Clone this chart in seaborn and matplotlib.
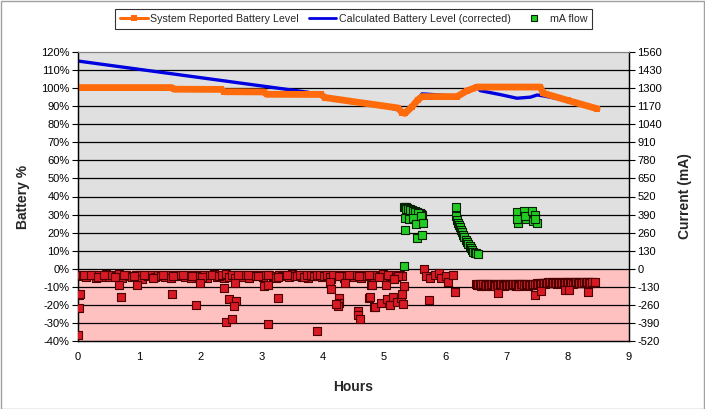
import matplotlib
matplotlib.use("Agg")
import matplotlib.pyplot as plt
import seaborn as sns
import pandas as pd
from matplotlib.lines import Line2D
from matplotlib.patches import Rectangle

sns.set_style("white")
plt.rcParams['font.family'] = ['Liberation Sans', 'DejaVu Sans']

# ---------------- data ----------------
# System reported battery level (%)
sys_hours = [0.0, 1.53, 1.57, 2.34, 2.39, 3.04, 3.08, 3.97, 4.03, 4.50, 4.90, 5.23, 5.29, 5.34,
             5.45, 5.55, 5.62, 6.19, 6.35, 6.52, 7.55, 7.60, 8.00, 8.48]
sys_level = [100.3, 100.3, 99.4, 99.3, 98.0, 97.9, 96.6, 96.5, 94.8, 92.5, 90.6, 89.0, 86.5, 86.0,
             89.5, 93.5, 95.3, 95.3, 98.5, 100.6, 100.6, 97.2, 93.2, 88.6]

# Calculated battery level (corrected) (%)
calc_hours = [0.0, 0.5, 1.0, 1.5, 2.0, 2.5, 3.0, 3.5, 3.76, 4.1, 4.5, 4.9, 5.22, 5.33, 5.45, 5.62,
              5.72, 6.2, 6.35, 6.52, 6.57, 6.9, 7.17, 7.39, 7.50, 7.62, 8.0, 8.48]
calc_level = [115, 112.7, 110.4, 108.1, 105.8, 103.5, 101.2, 98.9, 97.7, 95.0, 92.7, 90.8, 88.0, 87.0,
              90.0, 96.8, 96.6, 95.5, 98.5, 100.6, 98.6, 96.4, 94.4, 95.0, 96.2, 95.6, 93.0, 88.6]

# mA flow, discharge baseline (negative)
base_hours = [0.03, 0.08, 0.13, 0.19, 0.24, 0.29, 0.35, 0.40, 0.46, 0.51,
              0.56, 0.62, 0.67, 0.72, 0.78, 0.83, 0.88, 0.94, 0.99, 1.04,
              1.10, 1.15, 1.20, 1.26, 1.31, 1.36, 1.42, 1.47, 1.52, 1.58,
              1.63, 1.68, 1.74, 1.79, 1.84, 1.90, 1.95, 2.00, 2.06, 2.11,
              2.16, 2.22, 2.27, 2.32, 2.38, 2.43, 2.48, 2.54, 2.59, 2.64,
              2.70, 2.75, 2.80, 2.86, 2.91, 2.96, 3.02, 3.07, 3.12, 3.18,
              3.23, 3.28, 3.34, 3.39, 3.44, 3.50, 3.55, 3.60, 3.66, 3.71,
              3.76, 3.82, 3.87, 3.92, 3.98, 4.03, 4.08, 4.14, 4.19, 4.24,
              4.30, 4.35, 4.40, 4.46, 4.51, 4.56, 4.62, 4.67, 4.72, 4.78,
              4.83, 4.88, 4.94, 4.99, 5.04, 5.10, 5.15, 5.20, 5.26, 5.30]
base_ma = [-45, -52, -60, -42, -48, -70, -44, -56, -40, -62,
           -47, -53, -41, -66, -45, -50, -58, -43, -47, -72,
           -44, -55, -46, -61, -42, -49, -57, -45, -64, -43,
           -51, -47, -59, -44, -68, -46, -42, -54, -48, -63,
           -45, -41, -56, -49, -70, -44, -52, -60, -46, -43,
           -58, -47, -65, -42, -50, -45, -61, -48, -44, -55,
           -69, -43, -51, -46, -62, -41, -53, -47, -58, -44,
           -66, -49, -45, -52, -60, -43, -48, -71, -46, -55,
           -42, -63, -50, -45, -57, -44, -67, -48, -52, -43,
           -60, -46, -54, -41, -65, -49, -45, -58, -47, -52]
extra_hours = [0.10, 0.21, 0.32, 0.43, 0.60, 0.75, 0.91, 1.07, 1.23, 1.39,
               1.55, 1.71, 1.87, 2.03, 2.19, 2.30, 2.35, 2.41, 2.46, 2.51,
               2.57, 2.62, 2.78, 2.94, 3.10, 3.26, 3.42, 3.58, 3.63, 3.69,
               3.74, 3.80, 3.85, 3.90, 3.95, 4.01, 4.06, 4.12, 4.17, 4.27,
               4.43, 4.59, 4.75, 4.91, 5.07, 5.23,
               5.65, 5.69, 5.75, 5.83, 5.90, 5.93, 6.01, 6.05, 6.13]
extra_ma = [-48, -43, -58, -46, -62, -44, -51, -47, -66, -42,
            -55, -45, -49, -60, -44, -52, -46, -41, -57, -45,
            -63, -47, -44, -53, -46, -59, -43, -50, -45, -61,
            -47, -44, -55, -42, -48, -52, -45, -58, -43, -49,
            -46, -54, -44, -61, -47, -50,
            -4, -49, -69, -43, -33, -64, -49, -92, -43]
# later discharge band
band_hours = [6.50, 6.53, 6.55, 6.58, 6.60, 6.63, 6.65, 6.68, 6.70, 6.73,
              6.75, 6.78, 6.80, 6.83, 6.85, 6.88, 6.90, 6.93, 6.95, 6.98,
              7.00, 7.03, 7.05, 7.08, 7.10, 7.13, 7.15, 7.18, 7.20, 7.23,
              7.25, 7.28, 7.30, 7.33, 7.35, 7.38, 7.40, 7.43, 7.45, 7.48,
              7.50, 7.53, 7.55, 7.58, 7.60, 7.63, 7.65, 7.68, 7.70, 7.73,
              7.75, 7.78, 7.80, 7.83, 7.85, 7.88, 7.90, 7.93, 7.95, 7.98,
              8.00, 8.03, 8.05, 8.08, 8.10, 8.13, 8.15, 8.18, 8.20, 8.23,
              8.25, 8.28, 8.30, 8.33, 8.35, 8.38, 8.40]
band_ma = [-112, -118, -108, -122, -115, -110, -120, -113, -117, -109,
           -121, -114, -111, -119, -116, -108, -123, -112, -117, -110,
           -115, -120, -109, -114, -118, -111, -122, -113, -108, -116,
           -119, -112, -110, -117, -121, -109, -114, -118, -111, -115,
           -108, -113, -105, -110, -100, -107, -103, -98, -106, -101,
           -96, -104, -99, -108, -102, -97, -105, -100, -94, -103,
           -98, -106, -101, -95, -104, -99, -93, -102, -97, -105,
           -100, -95, -103, -98, -92, -101, -96]
band2_hours = [6.51, 6.54, 6.56, 6.59, 6.61, 6.64, 6.66, 6.69, 6.71, 6.74,
               6.76, 6.79, 6.81, 6.84, 6.86, 6.89, 6.91, 6.94, 6.96, 6.99,
               7.01, 7.04, 7.06, 7.09, 7.11, 7.14, 7.16, 7.19, 7.21, 7.24,
               7.26, 7.29, 7.31, 7.34, 7.36, 7.39, 7.41, 7.44, 7.46, 7.49,
               7.51, 7.54, 7.56, 7.59, 7.61, 7.64, 7.66, 7.69, 7.71, 7.74,
               7.76, 7.79, 7.81, 7.84, 7.86, 7.89, 7.91, 7.94, 7.96, 7.99,
               8.01, 8.04, 8.06, 8.09, 8.11, 8.14, 8.16, 8.19, 8.21, 8.24,
               8.26, 8.29, 8.31, 8.34, 8.36, 8.39]
band2_ma = [-115, -110, -119, -113, -108, -121, -116, -111, -114, -120,
            -109, -117, -123, -112, -115, -118, -110, -114, -121, -113,
            -117, -111, -116, -120, -109, -115, -112, -118, -121, -110,
            -113, -116, -119, -111, -114, -117, -120, -112, -109, -106,
            -111, -102, -108, -104, -99, -106, -101, -103, -97, -105,
            -100, -98, -103, -95, -101, -106, -99, -93, -102, -97,
            -104, -96, -100, -107, -97, -94, -101, -99, -95, -103,
            -97, -101, -94, -99, -104, -95]
# isolated negative readings
out_hours = [0.00, 0.02, 0.02, 0.03, 0.70, 0.67, 0.96, 1.53, 1.93, 2.00,
             2.38, 2.47, 2.58, 2.54, 2.41, 2.51, 2.57, 3.03, 3.10, 3.27,
             3.10, 3.90, 4.12, 4.13, 4.26, 4.26, 4.24, 4.22, 4.36, 4.57,
             4.58, 4.60, 4.75, 4.77, 4.79, 4.80, 4.83, 4.85, 4.95, 5.03,
             5.04, 5.10, 5.15, 5.16, 5.21, 5.28, 5.29, 5.31, 5.32, 5.73,
             6.16, 6.86, 7.46, 7.56, 7.96, 8.02, 8.33, 8.45]
out_ma = [-477, -280, -189, -182, -200, -114, -114, -179, -259, -100,
          -137, -215, -230, -265, -381, -359, -100, -122, -114, -208,
          -395, -446, -95, -146, -208, -244, -265, -256, -104, -304,
          -333, -361, -208, -205, -114, -114, -276, -273, -244, -114,
          -215, -259, -205, -72, -237, -208, -179, -256, -122, -225,
          -165, -172, -186, -157, -152, -152, -165, -92]

# mA flow, charging (positive)
chg_hours = [5.32, 5.34, 5.36, 5.38, 5.40, 5.42, 5.44, 5.46, 5.48, 5.50, 5.52, 5.54, 5.56, 5.58,
             5.60, 5.62, 5.35, 5.39, 5.43, 5.47, 5.51, 5.55,
             5.34, 5.40, 5.47, 5.52, 5.60, 5.64, 5.34, 5.53, 5.62, 5.32,
             6.17, 6.17, 6.19, 6.21, 6.23, 6.24, 6.26, 6.27, 6.29, 6.31, 6.33, 6.35, 6.37, 6.40,
             6.42, 6.44, 6.46, 6.48, 6.50, 6.53,
             7.17, 7.18, 7.17, 7.29, 7.31, 7.30, 7.41, 7.43, 7.47, 7.49, 7.46]
chg_ma = [447, 445, 441, 438, 433, 430, 426, 423, 419, 416, 411, 408, 404, 400,
          395, 390, 432, 428, 420, 414, 405, 398,
          364, 356, 368, 325, 382, 332, 279, 224, 243, 20,
          447, 380, 351, 330, 315, 297, 279, 262, 243, 225, 207, 192, 178, 162,
          147, 135, 123, 115, 110, 104,
          409, 332, 356, 418, 356, 380, 418, 346, 387, 332, 356]

pct_ticks = list(range(-40, 121, 10))
ma_ticks = list(range(-520, 1561, 130))
hour_ticks = list(range(0, 10))

# ---------------- figure ----------------
fig = plt.figure(figsize=(7.05, 4.09), dpi=100)
fig.patch.set_facecolor("white")
ax = fig.add_axes([78 / 705, 1 - 341 / 409, 551 / 705, 289 / 409])
ax.set_facecolor("#E0E0E0")
ax.axhspan(-40, 0, color="#FFC0C0", zorder=0, lw=0)
for v in pct_ticks[1:-1]:
    ax.axhline(v, color="black", lw=0.9, zorder=0.5)

ax2 = ax.twinx()

sys_df = pd.DataFrame({"h": sys_hours, "v": sys_level})
calc_df = pd.DataFrame({"h": calc_hours, "v": calc_level})
sns.lineplot(data=calc_df, x="h", y="v", ax=ax, color="#0000E0", lw=2.4,
             sort=False, estimator=None, zorder=3)
sns.lineplot(data=sys_df, x="h", y="v", ax=ax, color="#FF6A0A", lw=4.9,
             sort=False, estimator=None, zorder=4, marker="s", markersize=4.5,
             markeredgewidth=0)

neg_df = pd.DataFrame({"h": base_hours + extra_hours + band_hours + band2_hours + out_hours,
                       "ma": base_ma + extra_ma + band_ma + band2_ma + out_ma})
pos_df = pd.DataFrame({"h": chg_hours, "ma": chg_ma})
sns.scatterplot(data=neg_df, x="h", y="ma", ax=ax2, marker="s", s=30,
                color="#D81A24", edgecolor="#4A0000", linewidth=0.8, zorder=5)
sns.scatterplot(data=pos_df, x="h", y="ma", ax=ax2, marker="s", s=30,
                color="#22CC22", edgecolor="#062006", linewidth=0.8, zorder=5)

# axes scales
ax.set_xlim(0, 9)
ax.set_ylim(-40, 120)
ax2.set_ylim(-520, 1560)
ax.set_xticks(hour_ticks)
ax.set_xticklabels([str(h) for h in hour_ticks])
ax.set_yticks(pct_ticks)
ax.set_yticklabels([f"{v}%" for v in pct_ticks])
ax2.set_yticks(ma_ticks)
ax2.set_yticklabels([str(v) for v in ma_ticks])

ax.tick_params(axis="both", direction="out", length=4, width=0.8, labelsize=8,
               colors="black", pad=2)
ax.tick_params(axis="x", pad=4)
ax2.tick_params(axis="y", direction="out", length=4, width=0.8, labelsize=8,
                colors="black", pad=2)

for a in (ax, ax2):
    for s in ("left", "bottom", "right"):
        a.spines[s].set_color("black")
        a.spines[s].set_linewidth(0.9)
    a.spines["top"].set_color("#808080")
    a.spines["top"].set_linewidth(0.8)

ax.set_xlabel("Hours", fontsize=10, fontweight="bold")
ax.set_ylabel("Battery %", fontsize=10, fontweight="bold")
ax2.set_ylabel("Current (mA)", fontsize=10, fontweight="bold", rotation=90)
ax.xaxis.set_label_coords(0.5, -0.135)
ax.yaxis.set_label_coords(-0.087, 0.5)
ax2.yaxis.set_label_coords(1.089, 0.5)

handles = [
    Line2D([], [], color="#FF6A0A", lw=2.2, marker="s", markersize=4, markeredgewidth=0),
    Line2D([], [], color="#0000E0", lw=2.0),
    Line2D([], [], color="none", marker="s", markersize=4.5, markerfacecolor="#22CC22",
           markeredgecolor="#062006", markeredgewidth=0.8),
]
labels = ["System Reported Battery Level", "Calculated Battery Level (corrected)", "mA flow"]
leg = fig.legend(handles, labels, loc="center", bbox_to_anchor=(0.502, 0.954), ncol=3,
                 fontsize=7.7, frameon=True, fancybox=False, edgecolor="black",
                 handlelength=2.6, handletextpad=0.2, columnspacing=0.9,
                 borderpad=0.45)
leg.get_frame().set_linewidth(0.8)

fig.patches.append(Rectangle((0.001, 0.001), 0.997, 0.996, transform=fig.transFigure,
                             fill=False, edgecolor="#A0A0A0", lw=1.0))

fig.savefig("out.png", dpi=100)
